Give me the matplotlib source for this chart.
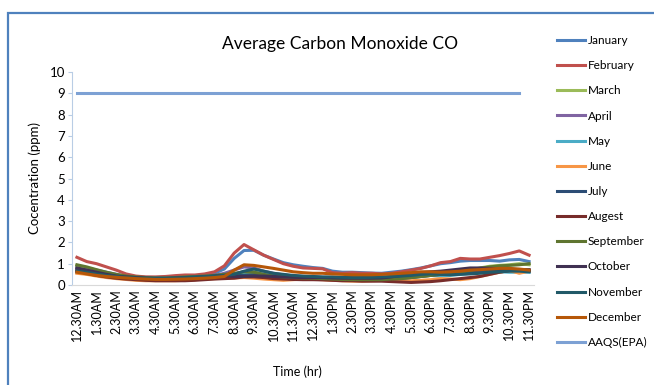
import numpy as np
import matplotlib.pyplot as plt
from matplotlib.patches import Rectangle

plt.rcParams['font.family'] = ['Lato', 'DejaVu Sans']

# half-hourly readings, 12.30AM .. 11.30PM
tick_labels = ['12.30AM', '1.30AM', '2.30AM', '3.30AM', '4.30AM', '5.30AM',
               '6.30AM', '7.30AM', '8.30AM', '9.30AM', '10.30AM', '11.30AM',
               '12.30PM', '1.30PM', '2.30PM', '3.30PM', '4.30PM', '5.30PM',
               '6.30PM', '7.30PM', '8.30PM', '9.30PM', '10.30PM', '11.30PM']

months = ['January', 'February', 'March', 'April', 'May', 'June', 'July',
          'Augest', 'September', 'October', 'November', 'December']

january = [0.85, 0.8, 0.7, 0.6, 0.5, 0.42, 0.38, 0.36, 0.35, 0.36, 0.38, 0.4, 0.42, 0.45, 0.55, 0.75,
           1.25, 1.62, 1.63, 1.4, 1.22, 1.05, 0.95, 0.88, 0.82, 0.78, 0.65, 0.6, 0.6, 0.58, 0.56, 0.55,
           0.6, 0.65, 0.72, 0.8, 0.9, 1.0, 1.05, 1.12, 1.15, 1.15, 1.15, 1.12, 1.18, 1.2, 1.1]
february = [1.3, 1.1, 1.0, 0.85, 0.7, 0.52, 0.42, 0.38, 0.38, 0.4, 0.44, 0.47, 0.47, 0.52, 0.62, 0.9,
            1.5, 1.9, 1.65, 1.4, 1.2, 1.0, 0.88, 0.8, 0.78, 0.76, 0.58, 0.55, 0.58, 0.55, 0.55, 0.52,
            0.55, 0.62, 0.7, 0.78, 0.9, 1.05, 1.1, 1.25, 1.22, 1.22, 1.3, 1.38, 1.48, 1.6, 1.4]
march = [0.9, 0.8, 0.65, 0.5, 0.4, 0.35, 0.3, 0.28, 0.27, 0.27, 0.28, 0.3, 0.32, 0.35, 0.4, 0.45,
         0.5, 0.6, 0.62, 0.5, 0.42, 0.38, 0.36, 0.35, 0.33, 0.32, 0.3, 0.28, 0.27, 0.25, 0.25, 0.25,
         0.28, 0.3, 0.35, 0.4, 0.45, 0.5, 0.55, 0.62, 0.7, 0.8, 0.88, 0.92, 0.95, 1.0, 0.95]
april = [0.75, 0.7, 0.6, 0.5, 0.42, 0.38, 0.35, 0.33, 0.32, 0.32, 0.33, 0.35, 0.38, 0.4, 0.45, 0.55,
         0.7, 0.85, 0.8, 0.65, 0.55, 0.48, 0.42, 0.4, 0.38, 0.36, 0.35, 0.33, 0.32, 0.3, 0.3, 0.3,
         0.32, 0.35, 0.4, 0.45, 0.5, 0.55, 0.6, 0.62, 0.65, 0.68, 0.7, 0.72, 0.72, 0.7, 0.7]
may = [0.6, 0.55, 0.45, 0.38, 0.33, 0.3, 0.28, 0.26, 0.25, 0.25, 0.26, 0.28, 0.3, 0.32, 0.35, 0.42,
       0.5, 0.55, 0.55, 0.5, 0.45, 0.42, 0.4, 0.38, 0.36, 0.35, 0.33, 0.32, 0.3, 0.3, 0.3, 0.32,
       0.35, 0.38, 0.42, 0.45, 0.45, 0.42, 0.45, 0.5, 0.55, 0.6, 0.62, 0.62, 0.6, 0.6, 0.6]
june = [0.55, 0.5, 0.42, 0.35, 0.3, 0.26, 0.22, 0.2, 0.2, 0.2, 0.2, 0.22, 0.25, 0.28, 0.3, 0.32,
        0.33, 0.35, 0.32, 0.28, 0.25, 0.22, 0.25, 0.28, 0.27, 0.25, 0.22, 0.2, 0.18, 0.18, 0.2, 0.22,
        0.22, 0.2, 0.2, 0.22, 0.25, 0.3, 0.28, 0.25, 0.3, 0.4, 0.5, 0.6, 0.68, 0.55, 0.65]
july = [0.7, 0.6, 0.5, 0.42, 0.38, 0.35, 0.33, 0.32, 0.3, 0.3, 0.3, 0.32, 0.35, 0.38, 0.42, 0.45,
        0.45, 0.45, 0.48, 0.45, 0.42, 0.4, 0.38, 0.36, 0.35, 0.33, 0.32, 0.3, 0.3, 0.28, 0.28, 0.28,
        0.3, 0.32, 0.35, 0.4, 0.45, 0.5, 0.55, 0.6, 0.62, 0.65, 0.68, 0.7, 0.72, 0.7, 0.68]
august = [0.65, 0.55, 0.45, 0.38, 0.32, 0.28, 0.25, 0.22, 0.2, 0.2, 0.2, 0.2, 0.22, 0.25, 0.28, 0.3,
          0.32, 0.38, 0.38, 0.35, 0.3, 0.28, 0.26, 0.25, 0.25, 0.24, 0.22, 0.2, 0.2, 0.18, 0.18, 0.18,
          0.16, 0.14, 0.12, 0.14, 0.16, 0.2, 0.25, 0.3, 0.35, 0.4, 0.5, 0.6, 0.68, 0.72, 0.65]
september = [0.95, 0.85, 0.72, 0.6, 0.5, 0.42, 0.38, 0.35, 0.33, 0.33, 0.35, 0.38, 0.4, 0.42, 0.45, 0.5,
             0.55, 0.62, 0.6, 0.5, 0.42, 0.38, 0.35, 0.33, 0.32, 0.3, 0.28, 0.26, 0.25, 0.25, 0.25, 0.25,
             0.28, 0.3, 0.35, 0.4, 0.45, 0.5, 0.55, 0.6, 0.68, 0.78, 0.85, 0.9, 0.92, 0.95, 1.0]
october = [0.8, 0.7, 0.6, 0.5, 0.42, 0.38, 0.35, 0.32, 0.3, 0.3, 0.32, 0.33, 0.35, 0.38, 0.42, 0.45,
           0.4, 0.4, 0.42, 0.42, 0.4, 0.38, 0.36, 0.35, 0.35, 0.35, 0.33, 0.32, 0.32, 0.32, 0.32, 0.33,
           0.38, 0.45, 0.52, 0.58, 0.62, 0.65, 0.7, 0.75, 0.8, 0.8, 0.78, 0.75, 0.75, 0.72, 0.72]
november = [0.65, 0.6, 0.52, 0.45, 0.4, 0.36, 0.33, 0.32, 0.32, 0.32, 0.33, 0.35, 0.38, 0.4, 0.42, 0.45,
            0.5, 0.65, 0.75, 0.65, 0.55, 0.5, 0.45, 0.42, 0.4, 0.38, 0.38, 0.36, 0.35, 0.35, 0.36, 0.38,
            0.4, 0.42, 0.45, 0.5, 0.52, 0.5, 0.48, 0.5, 0.52, 0.55, 0.6, 0.62, 0.65, 0.65, 0.62]
december = [0.6, 0.52, 0.45, 0.4, 0.36, 0.33, 0.3, 0.28, 0.26, 0.26, 0.27, 0.28, 0.3, 0.32, 0.35, 0.4,
            0.7, 0.95, 0.92, 0.85, 0.78, 0.7, 0.62, 0.58, 0.55, 0.55, 0.52, 0.5, 0.48, 0.48, 0.48, 0.5,
            0.52, 0.55, 0.58, 0.62, 0.62, 0.6, 0.62, 0.65, 0.7, 0.72, 0.75, 0.78, 0.78, 0.75, 0.7]
aaqs = [9] * 46

series = [january, february, march, april, may, june, july, august,
          september, october, november, december]
colors = ['#4f81bd', '#c0504d', '#9bbb59', '#8064a2', '#4bacc6', '#f79646',
          '#2c4d75', '#772c2a', '#5f7530', '#403152', '#215968', '#b65708']

fig = plt.figure(figsize=(6.54, 3.85), dpi=100)
ax = fig.add_axes([72 / 654, 1 - 285 / 385, 462 / 654, 213 / 385])

for name, vals, c in zip(months, series, colors):
    ax.plot(np.arange(len(vals)), vals, color=c, lw=2.2, label=name,
            solid_joinstyle='round')
ax.plot(np.arange(len(aaqs)), aaqs, color='#7da1d4', lw=2.2, label='AAQS(EPA)')

ax.set_xlim(-0.5, 46.5)
ax.set_ylim(0, 10)
ax.set_yticks(range(0, 11))
ax.set_xticks(np.arange(0, 47, 2))
ax.set_xticklabels(tick_labels, rotation=90, fontsize=9)
ax.tick_params(axis='x', length=0, pad=3)
ax.tick_params(axis='y', length=3, color='#b9cde5', labelsize=9.5, pad=2)

for s in ['top', 'right']:
    ax.spines[s].set_visible(False)
ax.spines['left'].set_color('#b9cde5')
ax.spines['bottom'].set_color('#d9d9d9')

ax.set_ylabel('Cocentration (ppm)', fontsize=9.5, labelpad=6)
fig.text(297 / 654, 1 - 372 / 385, 'Time (hr)', fontsize=9, ha='center', va='center')
fig.text(340 / 654, 1 - 44 / 385, 'Average Carbon Monoxide CO', fontsize=12.5,
         ha='center', va='center')

fig.legend(loc='upper left', bbox_to_anchor=(557 / 654, 1 - 35 / 385),
           frameon=False, fontsize=8.5, handlelength=2.4, handletextpad=0.2,
           labelspacing=1.2, borderpad=0, borderaxespad=0)

# chart area border, only the top and left edges fall inside the image
fig.add_artist(Rectangle((8 / 654, -0.2), 2, 1.2 - 13 / 385,
                         transform=fig.transFigure, fill=False,
                         edgecolor='#4f81bd', lw=1.6))

fig.savefig('out.png', dpi=100)
